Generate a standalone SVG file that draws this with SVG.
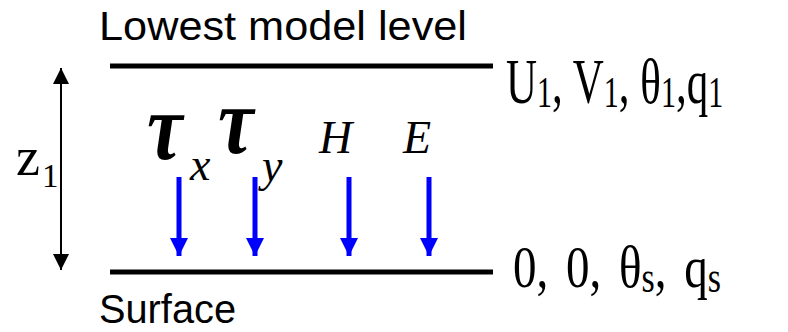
<svg xmlns="http://www.w3.org/2000/svg" width="788" height="332" viewBox="0 0 788 332">
<style>
.lbl{font-family:"Liberation Sans",Arial,sans-serif;font-size:40px;fill:#000}
.tm{font-family:"Liberation Serif","Times New Roman",serif;fill:#000}
.it{font-family:"Liberation Serif","Times New Roman",serif;font-style:italic;fill:#000}
.lvl{stroke:#000;stroke-width:5}
.flux{stroke:#0000ff;stroke-width:5;fill:none}
</style>
<defs>
<marker id="bh" viewBox="0 0 10 10" refX="10" refY="5" markerWidth="3.6" markerHeight="3.6" markerUnits="strokeWidth" orient="auto">
<path d="M0,0 L10,5 L0,10 Z" fill="#0000ff"/>
</marker>
<marker id="kh" viewBox="0 0 10 10" refX="10" refY="5" markerWidth="9" markerHeight="8" markerUnits="strokeWidth" orient="auto-start-reverse">
<path d="M0,0 L10,5 L0,10 Z" fill="#000"/>
</marker>
</defs>
<g id="top-level">
<line class="lvl" x1="110" y1="66" x2="493" y2="66"/>
<text class="lbl" x="99" y="40" textLength="368" lengthAdjust="spacingAndGlyphs">Lowest model level</text>
<text class="tm" font-size="43" transform="translate(506,103) scale(1,1.45)">U<tspan font-size="30" dy="3">1</tspan><tspan dy="-3">, V</tspan><tspan font-size="30" dy="3">1</tspan><tspan dy="-3">, θ</tspan><tspan font-size="30" dy="3">1</tspan><tspan dy="-3">,q</tspan><tspan font-size="30" dy="3">1</tspan></text>
</g>
<g id="surface">
<line class="lvl" x1="110" y1="272" x2="493" y2="272"/>
<text class="lbl" x="99" y="323" textLength="137" lengthAdjust="spacingAndGlyphs">Surface</text>
<text class="tm" font-size="47" word-spacing="6" transform="translate(513,287) scale(1,1.28)">0, 0, θ<tspan font-size="34" dy="4">s</tspan><tspan dy="-4">, q</tspan><tspan font-size="34" dy="4">s</tspan></text>
</g>
<g id="z1">
<text class="tm" x="16" y="175" font-size="54">z</text>
<text class="tm" x="42" y="187" font-size="33">1</text>
</g>
<g id="fluxes">
<text class="it" font-size="80" font-weight="bold" transform="translate(147,159) scale(1,1.2)">τ</text>
<text class="it" x="190" y="180" font-size="46">x</text>
<text class="it" font-size="80" font-weight="bold" transform="translate(218,153) scale(1,1.2)">τ</text>
<text class="it" x="262" y="181" font-size="46">y</text>
<text class="it" x="319" y="153" font-size="46">H</text>
<text class="it" x="403" y="153" font-size="46">E</text>
</g>
<g id="connectors">
<line x1="61" y1="68" x2="61" y2="270" stroke="#000" stroke-width="2" marker-start="url(#kh)" marker-end="url(#kh)"/>
<line class="flux" x1="179" y1="177" x2="179" y2="256" marker-end="url(#bh)"/>
<line class="flux" x1="255" y1="177" x2="255" y2="256" marker-end="url(#bh)"/>
<line class="flux" x1="349" y1="177" x2="349" y2="256" marker-end="url(#bh)"/>
<line class="flux" x1="429" y1="177" x2="429" y2="256" marker-end="url(#bh)"/>
</g>
</svg>
